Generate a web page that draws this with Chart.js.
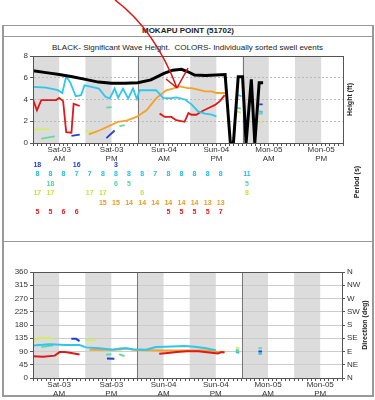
<!DOCTYPE html>
<html lang="en">
<head>
<meta charset="UTF-8">
<title>Mokapu Point swell</title>
<script src="https://cdn.jsdelivr.net/npm/chart.js"></script>
<style>
  body { margin: 0; background: #fff; }
  #wrap { position: relative; width: 375px; height: 400px; overflow: hidden; font-family: 'Liberation Sans', Arial, sans-serif; color: #222; }
  #box { position: absolute; left: 2px; top: 25px; width: 368px; height: 369px; border: 1px solid #999; border-width: 1px 2px 2px 2px; }
  #head { position: absolute; left: 4px; top: 26px; width: 368px; height: 10px; border-bottom: 1px solid #999; font-size: 8px; font-weight: bold; text-align: center; line-height: 10px; }
  #sub { position: absolute; left: 0; top: 43px; width: 375px; font-size: 8px; text-align: center; line-height: 10px; }
  #sep { position: absolute; left: 3px; top: 241px; width: 369px; height: 1px; background: #999; }
  canvas { position: absolute; left: 0; }
  #arrow { position: absolute; left: 0; top: 0; }
</style>
</head>
<body>
<div id="wrap">
  <div id="box"></div>
  <div id="head">MOKAPU POINT (51702)</div>
  <div id="sub">BLACK- Significant Wave Height.&nbsp; COLORS- Individually sorted swell events</div>
  <canvas id="heightChart" width="375" height="200" style="top:40px"></canvas>
  <div id="sep"></div>
  <canvas id="dirChart" width="375" height="154" style="top:242px"></canvas>
  <svg id="arrow" width="375" height="120">
    <path d="M115 0 Q155 30 177 88 M177 88 L166 79 M177 88 L188 68" fill="none" stroke="#e01010" stroke-width="1.5"/>
  </svg>
</div>

<script>
// hours since Sat-03 00:00
const axisHours = 71;
const labelHours = [6, 18, 30, 42, 54, 66];
const dayLabels = ['Sat-03', 'Sat-03', 'Sun-04', 'Sun-04', 'Mon-05', 'Mon-05'];
const halfLabels = ['AM', 'PM', 'AM', 'PM', 'AM', 'PM'];
const shadeStarts = [0, 12, 24, 36, 48, 60];
const shadeHours = 6;
const dayLines = [24, 48];

// height (ft) — [hour, value], null = break
const hBlack = [[0,6.65],[3,6.47],[6,6.3],[9,6.1],[12,5.85],[15,5.6],[18,5.5],[21,5.5],[24,5.55],[27,5.8],[30,6.4],[32,6.7],[34,6.77],[35.5,6.55],[37,6.25],[39.5,6.2],[44,6.3],[45.2,0],[45.9,0],[47,6.1],[48,6.1],[48.8,0],[50,5.85],[50.8,0],[51.8,5.55],[52.7,5.55]];
const hCyan = [[0,5.17],[3,5.1],[5.7,4.86],[6.7,4.6],[7.6,6.1],[8.5,5.6],[9.8,4.3],[11,4.4],[11.8,5.3],[13.4,5.17],[15.1,5.0],[16.6,4.25],[17.6,4.1],[18.7,5.0],[19.5,4.15],[20.6,5.0],[21.8,4.1],[22.9,5.0],[23.8,4.05],[24.4,4.85],[28.2,4.85],[29.8,4.15],[31.3,4.1],[32.8,4.2],[34.8,4.0],[36.3,3.55],[37.8,2.9],[39.4,2.7],[40.9,2.6],[42,2.45], null, [46.6,4.45],[47.8,4.3], null, [51.8,2.9],[52.6,2.85]];
const hRed = [[0,4.0],[0.9,3.0],[1.9,3.95],[5.3,3.95],[6,4.15],[6.9,3.85],[7.6,1.0],[8.8,0.95],[9.3,3.6],[10.7,3.4], null, [29,2.7],[30.2,2.4],[31.7,2.4],[32.8,2.1],[34.7,1.95],[35.6,2.75],[36.3,2.6],[37.4,2.6],[38.6,2.9],[40.1,3.2],[41.7,3.5],[42.8,3.85],[43.9,4.4]];
const hOrange = [[12.8,0.8],[15.3,1.17],[17.6,1.6],[19.5,1.95],[21.4,2.05],[23.7,2.4],[26,3.0],[28.2,4.1],[30.5,4.85],[32,5.0],[33.6,5.2],[35.5,5.05],[36.3,5.05],[37.8,4.9],[39.4,4.75],[40.9,4.75],[42,4.6],[44,4.6]];
const hLime = [[0,1.25],[3.8,1.25], null, [12,1.1],[14.5,0.9], null, [46.6,2.9],[47.6,2.8], null, [51.8,1.9],[52.6,1.9]];
const hMint = [[1.9,0.4],[5,0.6], null, [16.8,3.25],[18,3.3], null, [19.8,1.55],[21,1.65], null, [46.6,3.25],[47.6,3.15], null, [51.8,2.7],[52.6,2.7]];
const hBlue = [[8.8,0.65],[10.7,0.77], null, [16.8,0.45],[18.7,1.15], null, [51.8,3.55],[52.6,3.55]];

// direction (deg)
const dCyan = [[0,110],[3.8,115],[7.6,112],[10.7,112],[12.2,104],[15.3,101],[18.3,96],[20,100],[21.4,101],[23,98],[26,96],[27,100],[28.2,105],[32,107],[34.8,109],[37.1,106],[39.4,102],[42,94], null, [46.6,88],[47.4,86], null, [51.8,82],[52.6,82]];
const dRed = [[0,74],[2.3,72],[5,76],[6.1,88],[7.3,88],[8.8,85],[10.7,80], null, [29,82],[31,85],[33,88],[35.5,91],[38,91],[41,86],[42.5,83],[43.3,88],[44,87]];
const dOrange = [[13,96],[17.6,96],[20,97],[21.4,101],[22.9,96],[26,94],[29,93],[35.5,93],[39.4,93],[42.4,89],[44,88]];
const dLime = [[0,124],[1.5,137],[3.8,137],[4.6,131], null, [12,127],[14.5,130], null, [46.6,104],[47.4,101]];
const dMint = [[1.9,105],[4.6,111], null, [16.8,79],[18,81], null, [19.8,81],[21,74], null, [46.6,96],[47.4,93], null, [51.8,101],[52.6,101]];
const dBlue = [[8.8,133],[9.9,133],[10.7,125], null, [17,66],[18.7,65], null, [51.8,90],[52.6,90]];

// peak period (s) table, one column every 3 hours from hour 1
const periodStartHour = 1;
const periodStep = 3;
const pBlue   = [18, null, null, 16, null, null, 3];
const pCyan   = [8, 8, 8, 7, 7, 8, 8, 8, 8, 7, 8, 8, 8, 8, 8, null, 11];
const pMint   = [null, 18, null, null, null, null, 6, 5, null, null, null, null, null, null, null, null, 5];
const pLime   = [17, 17, null, null, 17, 17, null, null, 6, null, null, null, null, null, null, null, 8];
const pOrange = [null, null, null, null, null, 15, 15, 14, 14, 14, 14, 14, 14, 13, 13];
const pRed    = [5, 5, 6, 6, null, null, null, null, null, null, 5, 5, 5, 5, 7];

const dirNames = ['N', 'NE', 'E', 'SE', 'S', 'SW', 'W', 'NW', 'N'];

const BLACK = '#000000', CYAN = '#2ec6ec', RED = '#e01818', ORANGE = '#f5a028',
      LIME = '#d2ee66', MINT = '#5cdca8', BLUE = '#2040d0';

Chart.defaults.font.family = "'Liberation Sans', Arial, sans-serif";
Chart.defaults.font.size = 8;
Chart.defaults.color = '#333';

function pts(arr) {
  const out = [];
  let lastX = 0;
  arr.forEach(p => {
    if (p) { out.push({ x: p[0], y: p[1] }); lastX = p[0]; }
    else out.push({ x: lastX, y: null });
  });
  return out;
}

function line(data, color, width) {
  return { data: pts(data), borderColor: color, borderWidth: width, pointRadius: 0, tension: 0, spanGaps: false };
}

function xLabel(v) {
  const i = labelHours.indexOf(v);
  return i >= 0 ? [dayLabels[i], halfLabels[i]] : '';
}

const hourTicks = [];
for (let h = 0; h <= axisHours; h++) hourTicks.push(h);

const bandsPlugin = {
  id: 'bands',
  beforeDraw(chart) {
    const { ctx, chartArea: a, scales: { x } } = chart;
    ctx.save();
    ctx.fillStyle = '#dcdcdc';
    shadeStarts.forEach(h => {
      const x0 = x.getPixelForValue(h);
      const x1 = Math.min(x.getPixelForValue(h + shadeHours), a.right);
      ctx.fillRect(x0, a.top, x1 - x0, a.bottom - a.top);
    });
    ctx.restore();
  },
  beforeDatasetsDraw(chart) {
    const { ctx, chartArea: a, scales: { x } } = chart;
    ctx.save();
    ctx.strokeStyle = '#777';
    ctx.lineWidth = 1;
    dayLines.forEach(h => {
      const px = Math.round(x.getPixelForValue(h)) + 0.5;
      ctx.beginPath(); ctx.moveTo(px, a.top); ctx.lineTo(px, a.bottom); ctx.stroke();
    });
    ctx.restore();
  },
  afterDraw(chart) {
    const { ctx, chartArea: a } = chart;
    ctx.save();
    ctx.strokeStyle = '#555';
    ctx.lineWidth = 1;
    ctx.strokeRect(Math.round(a.left) + 0.5, Math.round(a.top) + 0.5, Math.round(a.right - a.left), Math.round(a.bottom - a.top));
    const t = chart.options.plugins.sideTitles;
    ctx.fillStyle = '#222';
    ctx.font = "bold 7px 'Liberation Sans', Arial, sans-serif";
    ctx.textAlign = 'center';
    ctx.textBaseline = 'middle';
    t.forEach(s => {
      ctx.save();
      ctx.translate(s.x, s.y === 'mid' ? (a.top + a.bottom) / 2 : s.y);
      ctx.rotate(-Math.PI / 2);
      ctx.fillText(s.text, 0, 0);
      ctx.restore();
    });
    ctx.restore();
  }
};

const periodPlugin = {
  id: 'periods',
  afterDraw(chart) {
    const { ctx, chartArea: a, scales: { x } } = chart;
    const rows = [pBlue, pCyan, pMint, pLime, pOrange, pRed];
    const colors = [BLUE, '#22bce6', '#4fd69c', '#c4e23c', '#ee9a1c', '#dd1c1c'];
    ctx.save();
    ctx.font = "bold 7px 'Liberation Sans', Arial, sans-serif";
    ctx.textAlign = 'center';
    ctx.textBaseline = 'middle';
    rows.forEach((row, r) => {
      ctx.fillStyle = colors[r];
      row.forEach((v, c) => {
        if (v == null) return;
        const px = x.getPixelForValue(periodStartHour + c * periodStep);
        ctx.fillText(String(v), px, a.bottom + 22 + r * 9.4);
      });
    });
    ctx.restore();
  }
};

const xScale = (height) => ({
  type: 'linear', min: 0, max: axisHours,
  afterBuildTicks: s => { s.ticks = hourTicks.map(v => ({ value: v })); },
  afterFit: s => { s.height = height; },
  ticks: { autoSkip: false, maxRotation: 0, padding: 0, color: '#333', font: { size: 8, lineHeight: 1.05 }, callback: xLabel },
  grid: { drawOnChartArea: false, tickLength: 3, tickColor: '#555' },
  border: { color: '#555' }
});

new Chart(document.getElementById('heightChart'), {
  type: 'line',
  data: {
    datasets: [
      line(hBlack, BLACK, 3),
      line(hCyan, CYAN, 1.8),
      line(hRed, RED, 1.8),
      line(hOrange, ORANGE, 1.8),
      line(hLime, LIME, 1.8),
      line(hMint, MINT, 1.8),
      line(hBlue, BLUE, 1.8)
    ]
  },
  options: {
    responsive: false,
    animation: false,
    devicePixelRatio: 1,
    layout: { padding: { left: 0, right: 32, top: 16, bottom: 77 } },
    plugins: {
      legend: { display: false },
      tooltip: { enabled: false },
      sideTitles: [{ text: 'Height (ft)', x: 350, y: 'mid' }, { text: 'Period (s)', x: 357, y: 142 }]
    },
    scales: {
      x: xScale(20),
      y: {
        min: 0, max: 8,
        afterFit: s => { s.width = 33; },
        ticks: { stepSize: 2, padding: 2, color: '#333' },
        grid: { color: '#bbb', tickColor: '#555', tickLength: 3 },
        border: { color: '#555', dash: [2, 2] }
      }
    }
  },
  plugins: [bandsPlugin, periodPlugin]
});

new Chart(document.getElementById('dirChart'), {
  type: 'line',
  data: {
    datasets: [
      line(dCyan, CYAN, 2),
      line(dRed, RED, 2),
      line(dOrange, ORANGE, 2),
      line(dLime, LIME, 2),
      line(dMint, MINT, 2),
      line(dBlue, BLUE, 2)
    ]
  },
  options: {
    responsive: false,
    animation: false,
    devicePixelRatio: 1,
    layout: { padding: { left: 0, right: 13, top: 30, bottom: 0 } },
    plugins: {
      legend: { display: false },
      tooltip: { enabled: false },
      sideTitles: [{ text: 'Direction (deg)', x: 365, y: 'mid' }]
    },
    scales: {
      x: xScale(18),
      y: {
        min: 0, max: 360,
        afterFit: s => { s.width = 33; },
        ticks: { stepSize: 45, padding: 2, color: '#333' },
        grid: { color: '#ccc', tickColor: '#555', tickLength: 3 },
        border: { color: '#555' }
      },
      y2: {
        position: 'right',
        min: 0, max: 360,
        afterFit: s => { s.width = 20; },
        ticks: { stepSize: 45, padding: 2, color: '#333', callback: v => dirNames[v / 45] },
        grid: { drawOnChartArea: false, tickColor: '#555', tickLength: 3 },
        border: { color: '#555' }
      }
    }
  },
  plugins: [bandsPlugin]
});
</script>
</body>
</html>
